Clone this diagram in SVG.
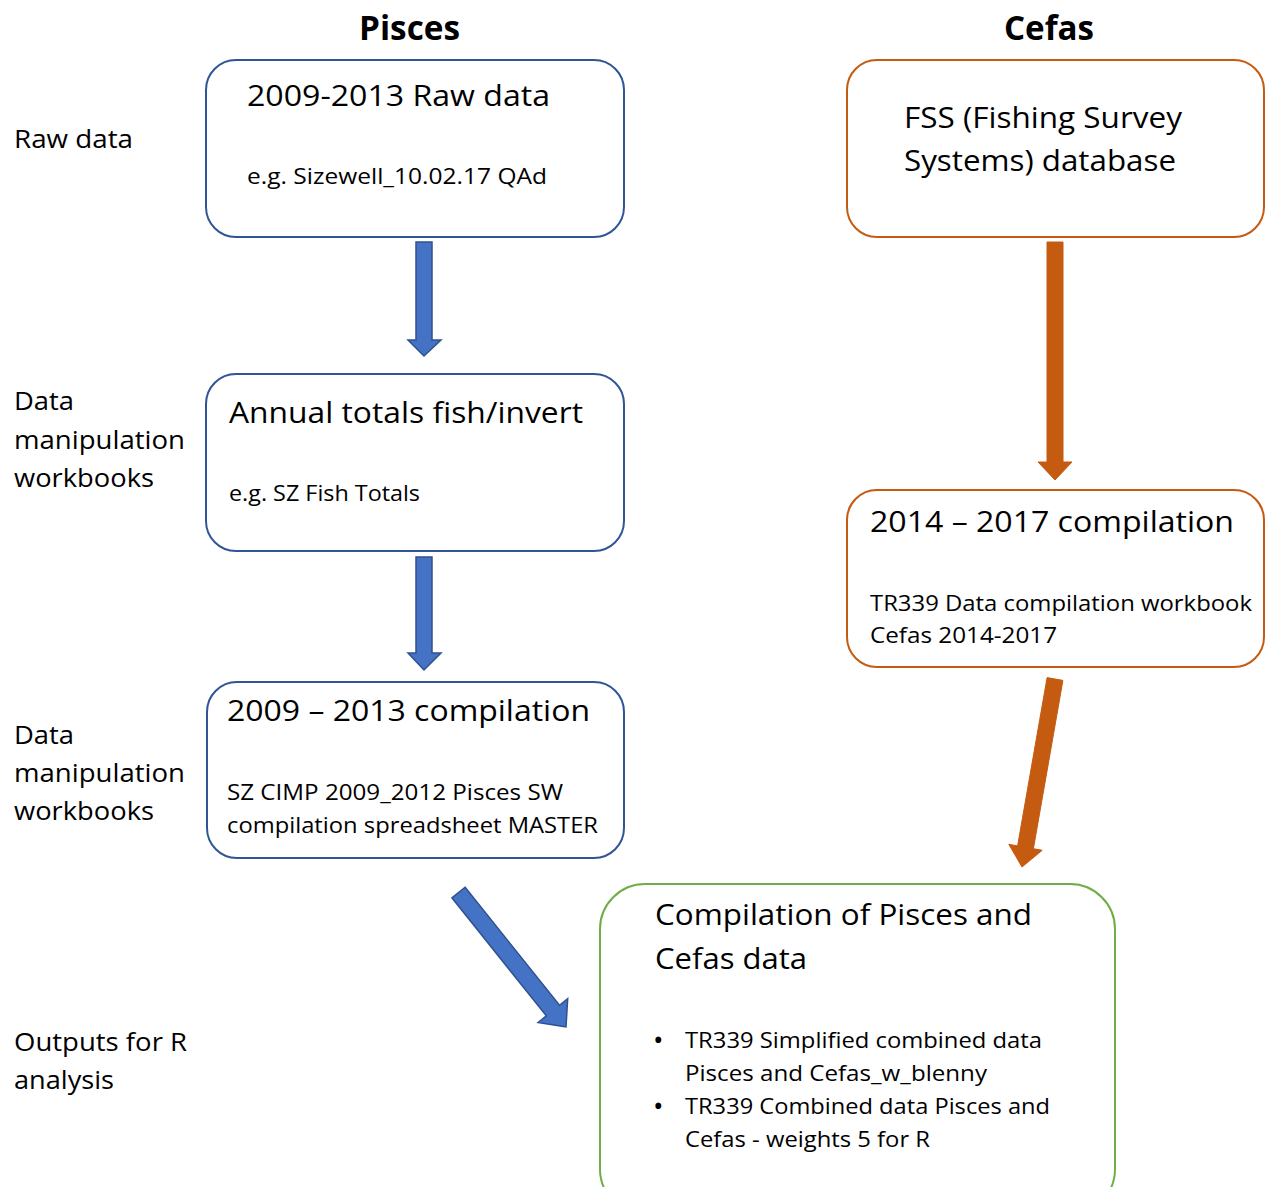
<svg xmlns="http://www.w3.org/2000/svg" width="1269" height="1187" viewBox="0 0 1269 1187">
<style>
text{font-family:"Open Sans","Liberation Sans",sans-serif;fill:#000}
.t{font-weight:bold;font-size:34px}
.lab{font-size:25px}
.big{font-size:29px}
.sm{font-size:22px}
.bul{font-size:28px}
.box{fill:#fff;stroke-width:2}
.blue{stroke:#2F5597}
.orange{stroke:#C55A11}
.green{stroke:#70AD47}
.ab{fill:#4472C4;stroke:#2F528F;stroke-width:1.5}
.ao{fill:#C55A11;stroke:#C55A11;stroke-width:1}
</style>
<rect width="1269" height="1187" fill="#fff"/>
<g id="headers">
<text class="t" x="359" y="40" textLength="101" lengthAdjust="spacingAndGlyphs">Pisces</text>
<text class="t" x="1004" y="40" textLength="90" lengthAdjust="spacingAndGlyphs">Cefas</text>
</g>
<g id="row-labels">
<text class="lab" x="14" y="148" textLength="119" lengthAdjust="spacingAndGlyphs">Raw data</text>
<text class="lab" x="14" y="410" textLength="60" lengthAdjust="spacingAndGlyphs">Data</text>
<text class="lab" x="14" y="449" textLength="171" lengthAdjust="spacingAndGlyphs">manipulation</text>
<text class="lab" x="14" y="487" textLength="140" lengthAdjust="spacingAndGlyphs">workbooks</text>
<text class="lab" x="14" y="744" textLength="60" lengthAdjust="spacingAndGlyphs">Data</text>
<text class="lab" x="14" y="782" textLength="171" lengthAdjust="spacingAndGlyphs">manipulation</text>
<text class="lab" x="14" y="820" textLength="140" lengthAdjust="spacingAndGlyphs">workbooks</text>
<text class="lab" x="14" y="1051" textLength="173" lengthAdjust="spacingAndGlyphs">Outputs for R</text>
<text class="lab" x="14" y="1089" textLength="100" lengthAdjust="spacingAndGlyphs">analysis</text>
</g>
<g id="connectors">
<polygon class="ab" points="416,242 432,242 432,340 441,340 424,356 408,340 416,340"/>
<polygon class="ab" points="416,557 432,557 432,653 441,653 424,670 408,653 416,653"/>
<polygon class="ao" points="1047,242 1063,242 1063,462 1072,462 1055,480 1038,462 1047,462"/>
<polygon class="ao" points="1047.1,677.6 1062.9,680.4 1033.4,848.7 1042.2,850.3 1022,867 1008.8,844.3 1017.6,845.9"/>
<polygon class="ab" points="465.1,887.2 559.5,1005.3 567.7,998.7 566,1027 538.1,1022.5 546.3,1015.9 451.9,897.8"/>
</g>
<g id="node-raw">
<rect class="box blue" x="206" y="60" width="418" height="177" rx="30"/>
<text class="big" x="247" y="106" textLength="303" lengthAdjust="spacingAndGlyphs">2009-2013 Raw data</text>
<text class="sm" x="247" y="184" textLength="300" lengthAdjust="spacingAndGlyphs">e.g. Sizewell_10.02.17 QAd</text>
</g>
<g id="node-fss">
<rect class="box orange" x="847" y="60" width="417" height="177" rx="30"/>
<text class="big" x="904" y="128" textLength="278" lengthAdjust="spacingAndGlyphs">FSS (Fishing Survey</text>
<text class="big" x="904" y="171" textLength="272" lengthAdjust="spacingAndGlyphs">Systems) database</text>
</g>
<g id="node-annual">
<rect class="box blue" x="206" y="374" width="418" height="177" rx="30"/>
<text class="big" x="229" y="423" textLength="354" lengthAdjust="spacingAndGlyphs">Annual totals fish/invert</text>
<text class="sm" x="229" y="501" textLength="191" lengthAdjust="spacingAndGlyphs">e.g. SZ Fish Totals</text>
</g>
<g id="node-cefas-comp">
<rect class="box orange" x="847" y="490" width="417" height="177" rx="30"/>
<text class="big" x="870" y="532" textLength="364" lengthAdjust="spacingAndGlyphs">2014 – 2017 compilation</text>
<text class="sm" x="870" y="611" textLength="382" lengthAdjust="spacingAndGlyphs">TR339 Data compilation workbook</text>
<text class="sm" x="870" y="643" textLength="187" lengthAdjust="spacingAndGlyphs">Cefas 2014-2017</text>
</g>
<g id="node-pisces-comp">
<rect class="box blue" x="207" y="682" width="417" height="176" rx="30"/>
<text class="big" x="227" y="721" textLength="363" lengthAdjust="spacingAndGlyphs">2009 – 2013 compilation</text>
<text class="sm" x="227" y="800" textLength="336" lengthAdjust="spacingAndGlyphs">SZ CIMP 2009_2012 Pisces SW</text>
<text class="sm" x="227" y="833" textLength="371" lengthAdjust="spacingAndGlyphs">compilation spreadsheet MASTER</text>
</g>
<g id="node-combined">
<rect class="box green" x="600" y="884" width="515" height="330" rx="45"/>
<text class="big" x="655" y="925" textLength="377" lengthAdjust="spacingAndGlyphs">Compilation of Pisces and</text>
<text class="big" x="655" y="969" textLength="152" lengthAdjust="spacingAndGlyphs">Cefas data</text>
<text class="bul" x="653" y="1050">•</text>
<text class="sm" x="685" y="1048" textLength="357" lengthAdjust="spacingAndGlyphs">TR339 Simplified combined data</text>
<text class="sm" x="685" y="1081" textLength="302" lengthAdjust="spacingAndGlyphs">Pisces and Cefas_w_blenny</text>
<text class="bul" x="653" y="1116">•</text>
<text class="sm" x="685" y="1114" textLength="365" lengthAdjust="spacingAndGlyphs">TR339 Combined data Pisces and</text>
<text class="sm" x="685" y="1147" textLength="245" lengthAdjust="spacingAndGlyphs">Cefas - weights 5 for R</text>
</g>
</svg>
